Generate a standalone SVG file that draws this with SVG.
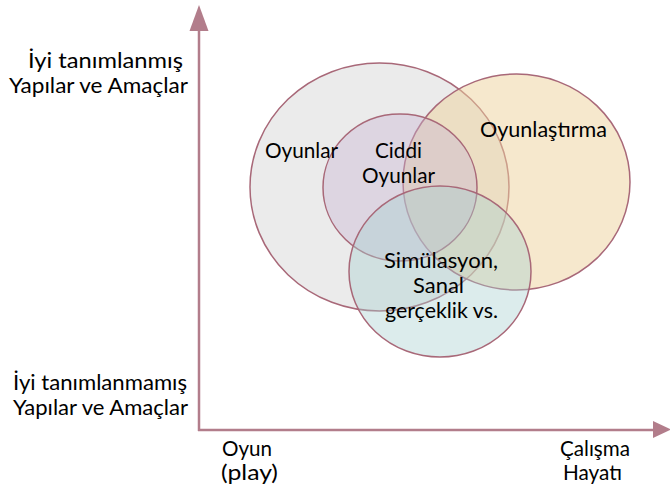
<svg xmlns="http://www.w3.org/2000/svg" width="670" height="490" viewBox="0 0 670 490">
  <style>
    .lbl { font-family: Lato, "Open Sans", "Liberation Sans", sans-serif; font-size: 21px; fill: #000; }
    .set { stroke: #a86878; stroke-width: 1.5; }
    .axis { stroke: #b27d8b; stroke-width: 2.5; fill: none; }
    .head { fill: #b27d8b; }
  </style>
  <rect width="670" height="490" fill="#ffffff"/>

  <!-- axes -->
  <g id="connectors">
    <line class="axis" x1="199" y1="431" x2="199" y2="28"/>
    <polygon class="head" points="199,5 208.5,31 189.5,31"/>
    <line class="axis" x1="198" y1="430" x2="655" y2="430"/>
    <polygon class="head" points="671,429.5 653,421 653,438"/>
  </g>

  <!-- axis captions -->
  <g id="y-top">
    <text class="lbl" x="28" y="68" textLength="155" lengthAdjust="spacingAndGlyphs">İyi tanımlanmış</text>
    <text class="lbl" x="9" y="93" textLength="179" lengthAdjust="spacingAndGlyphs">Yapılar ve Amaçlar</text>
  </g>
  <g id="y-bottom">
    <text class="lbl" x="13" y="390" textLength="174" lengthAdjust="spacingAndGlyphs">İyi tanımlanmamış</text>
    <text class="lbl" x="13" y="415" textLength="175" lengthAdjust="spacingAndGlyphs">Yapılar ve Amaçlar</text>
  </g>
  <g id="x-left">
    <text class="lbl" x="222" y="456" textLength="50" lengthAdjust="spacingAndGlyphs">Oyun</text>
    <text class="lbl" x="221" y="480" textLength="57" lengthAdjust="spacingAndGlyphs">(play)</text>
  </g>
  <g id="x-right">
    <text class="lbl" x="560" y="456" textLength="70" lengthAdjust="spacingAndGlyphs">Çalışma</text>
    <text class="lbl" x="563" y="480" textLength="59" lengthAdjust="spacingAndGlyphs">Hayatı</text>
  </g>

  <!-- sets -->
  <g id="oyunlar">
    <ellipse class="set" cx="379.5" cy="187" rx="129.5" ry="124" fill="#d8d8d8" fill-opacity="0.5"/>
  </g>
  <g id="oyunlastirma">
    <ellipse class="set" cx="516.5" cy="182" rx="113.5" ry="108" fill="#eed29b" fill-opacity="0.5"/>
  </g>
  <g id="ciddi-oyunlar">
    <ellipse class="set" cx="400" cy="187.5" rx="77" ry="73.5" fill="#c8b4d2" fill-opacity="0.4"/>
  </g>
  <g id="simulasyon">
    <ellipse class="set" cx="440" cy="271.5" rx="91" ry="85.5" fill="#a8d0d0" fill-opacity="0.4"/>
  </g>

  <!-- set labels -->
  <g id="set-labels">
    <text class="lbl" x="265" y="158" textLength="73" lengthAdjust="spacingAndGlyphs">Oyunlar</text>
    <text class="lbl" x="375" y="158" textLength="47" lengthAdjust="spacingAndGlyphs">Ciddi</text>
    <text class="lbl" x="362" y="183" textLength="73" lengthAdjust="spacingAndGlyphs">Oyunlar</text>
    <text class="lbl" x="480" y="137" textLength="127" lengthAdjust="spacingAndGlyphs">Oyunlaştırma</text>
    <text class="lbl" x="384" y="268" textLength="114" lengthAdjust="spacingAndGlyphs">Simülasyon,</text>
    <text class="lbl" x="413" y="293" textLength="51" lengthAdjust="spacingAndGlyphs">Sanal</text>
    <text class="lbl" x="385" y="318" textLength="113" lengthAdjust="spacingAndGlyphs">gerçeklik vs.</text>
  </g>
</svg>
